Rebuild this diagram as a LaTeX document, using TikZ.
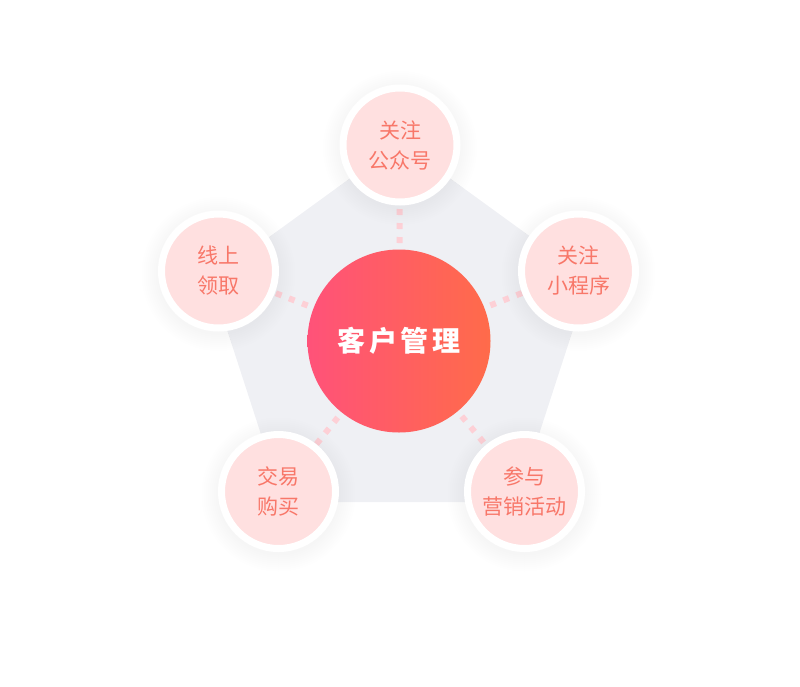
\documentclass[tikz,border=0pt]{standalone}
\usepackage{fontspec}
\usepackage{tikz}
\newfontfamily\cjk{Noto Sans CJK SC}
\newfontfamily\cjkwide[LetterSpace=14]{Noto Sans CJK SC}
\definecolor{penta}{HTML}{EFF0F4}
\definecolor{dotpink}{HTML}{FDD0D6}
\definecolor{satfill}{HTML}{FFE0E0}
\definecolor{sattext}{HTML}{F87769}
\definecolor{gradL}{HTML}{FF5279}
\definecolor{gradR}{HTML}{FF6B4A}

\begin{document}
\begin{tikzpicture}[x=1pt, y=-1pt,
  sat/.style={circle, minimum size=114pt, inner sep=0pt, fill=satfill, draw=white, line width=7pt,
    text=sattext, align=center, font=\cjk\fontsize{21}{30}\selectfont},
  hub/.style={circle, minimum size=183pt, inner sep=0pt, left color=gradL, right color=gradR,
    text=white, font=\cjkwide\bfseries\fontsize{28}{32}\selectfont},
  halo/.style={black, opacity=0.004},
  link/.style={dotpink, line width=6pt, dash pattern=on 6pt off 8pt}]
  \useasboundingbox (0,0) rectangle (800,686);
  \fill[penta] (400,142) -- (589.3,279.5) -- (517,502) -- (283,502) -- (210.7,279.5) -- cycle;
  \coordinate (c) at (399,341);
  \coordinate (p1) at (400,145);
  \coordinate (p2) at (578.5,271);
  \coordinate (p3) at (524.5,491.5);
  \coordinate (p4) at (278.5,491.5);
  \coordinate (p5) at (218.5,271);
  \foreach \i in {1,...,5} \draw[link] (c) -- (p\i);
  % soft shadows
  \foreach \i in {1,...,5}
    \foreach \r in {61,63,...,77}
      \fill[halo, shift={(p\i)}] (0,3) circle (\r pt);
  \node[hub] (m) at (c) {客户管理};
  \node[sat] (a) at (p1) {关注\\公众号};
  \node[sat] (b) at (p2) {关注\\小程序};
  \node[sat] (d) at (p3) {参与\\营销活动};
  \node[sat] (e) at (p4) {交易\\购买};
  \node[sat] (f) at (p5) {线上\\领取};
\end{tikzpicture}
\end{document}
